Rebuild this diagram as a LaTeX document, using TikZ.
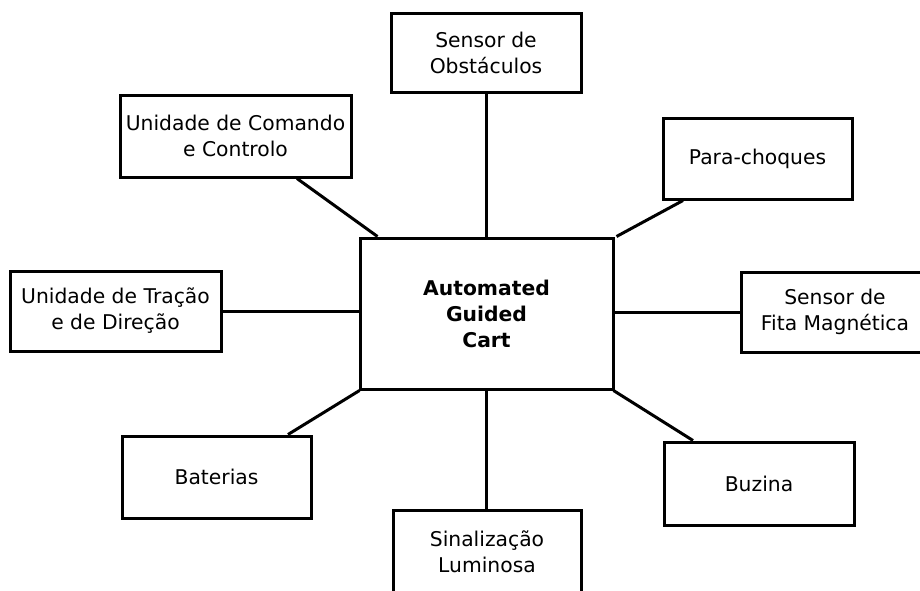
\documentclass[tikz,border=0pt]{standalone}
\usepackage{fontspec}
\setmainfont{DejaVu Sans}
\usetikzlibrary{calc}

\tikzset{
  part/.style={draw=black, line width=3pt, fill=white, rectangle,
    align=center, inner sep=0pt,
    font=\fontsize{20.3}{26}\selectfont},
  hub/.style={part, font=\fontsize{20.3}{26}\selectfont\bfseries},
  link/.style={draw=black, line width=3pt}
}

\begin{document}
\begin{tikzpicture}[x=1pt, y=-1pt]
  \clip (0,0) rectangle (920,590);
  \fill[white] (0,0) rectangle (920,590);

  % central block
  \node[hub, minimum width=253pt, minimum height=151pt] (cart) at (486.5,313.5)
    {Automated\\Guided\\Cart};

  % surrounding subsystems
  \node[part, minimum width=190pt, minimum height=79pt] (obst) at (486,52.5)
    {Sensor de\\Obstáculos};
  \node[part, minimum width=231pt, minimum height=82pt] (cmd) at (235.5,136)
    {Unidade de Comando\\e Controlo};
  \node[part, minimum width=189pt, minimum height=81pt] (para) at (757.5,158.5)
    {Para-choques};
  \node[part, minimum width=211pt, minimum height=80pt] (trac) at (115.5,311)
    {Unidade de Tração\\e de Direção};
  \node[part, minimum width=188pt, minimum height=80pt] (fita) at (835,312)
    {Sensor de\\Fita Magnética};
  \node[part, minimum width=189pt, minimum height=82pt] (bat) at (216.5,477)
    {Baterias};
  \node[part, minimum width=190pt, minimum height=83pt] (buz) at (759,483.5)
    {Buzina};
  \node[part, minimum width=188pt, minimum height=84pt] (sinal) at (487,552)
    {Sinalização\\Luminosa};

  % connectors
  \draw[link] (cart.north) -- (cart.north |- obst.south);
  \draw[link] ([xshift=61.5pt]cmd.south) -- ([xshift=19pt]cart.north west);
  \draw[link] ([xshift=-74.5pt]para.south) -- ([xshift=2pt]cart.north east);
  \draw[link] (trac.east) -- (trac.east -| cart.west);
  \draw[link] (cart.east |- fita.west) -- (fita.west);
  \draw[link] ([xshift=71.5pt]bat.north) -- ([xshift=1pt]cart.south west);
  \draw[link] ([xshift=-1pt]cart.south east) -- ([xshift=-66pt]buz.north);
  \draw[link] (cart.south) -- (cart.south |- sinal.north);
\end{tikzpicture}
\end{document}
